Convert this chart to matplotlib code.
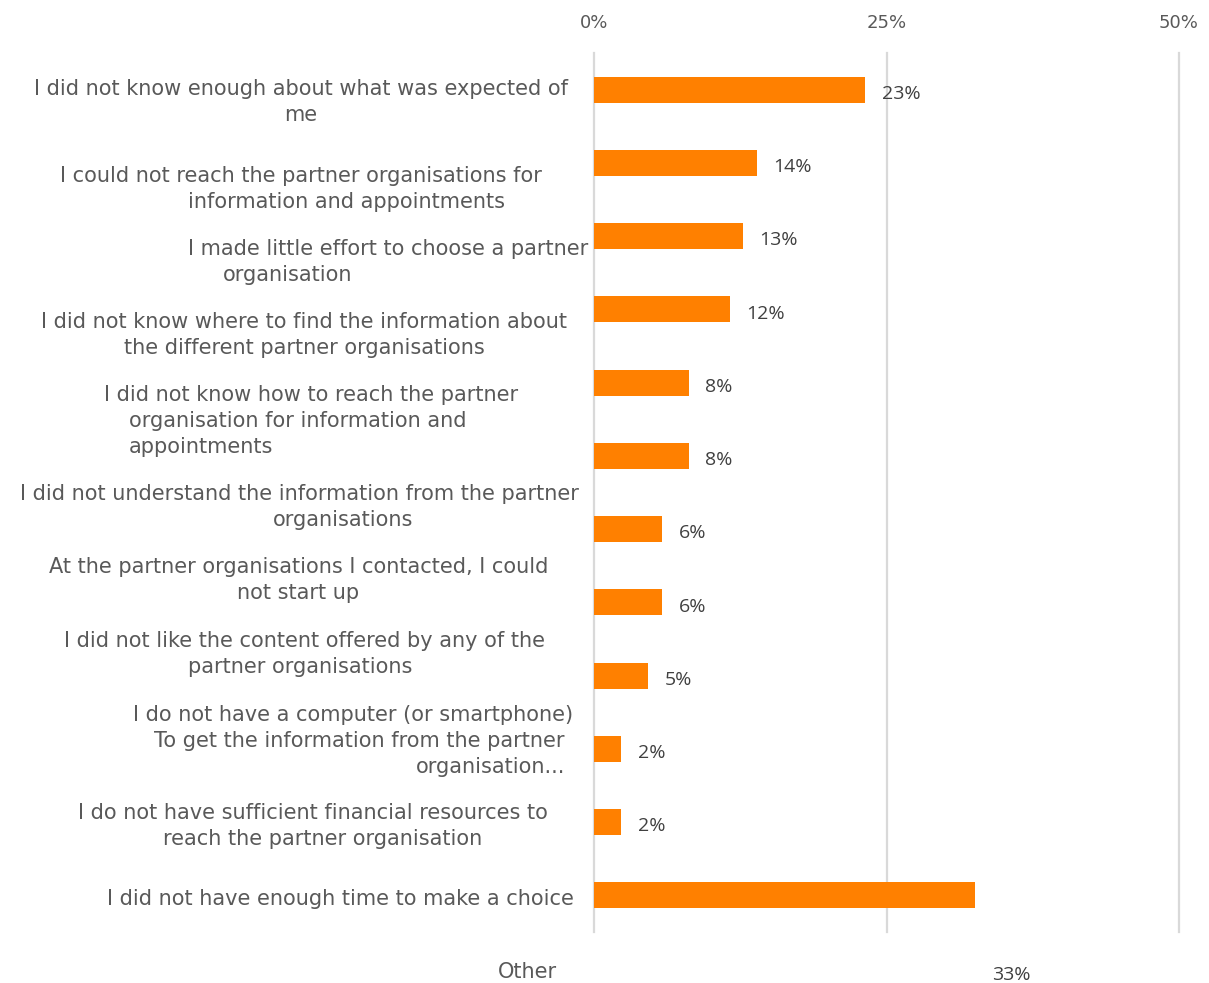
import matplotlib.pyplot as plt
import numpy as np

# survey answers, one bar per reason (top to bottom)
values = [23.2, 13.9, 12.7, 11.6, 8.1, 8.1, 5.8, 5.8, 4.6, 2.3, 2.3, 32.6]
value_labels = ["23%", "14%", "13%", "12%", "8%", "8%", "6%", "6%", "5%", "2%", "2%", "33%"]

# category text, split into lines the way they are laid out on the left
label_lines = [
    ["I did not know enough about what was expected of", "me"],
    ["I could not reach the partner organisations for", "information and appointments"],
    ["I made little effort to choose a partner", "organisation"],
    ["I did not know where to find the information about", "the different partner organisations"],
    ["I did not know how to reach the partner", "organisation for information and", "appointments"],
    ["I did not understand the information from the partner", "organisations"],
    ["At the partner organisations I contacted, I could", "not start up"],
    ["I did not like the content offered by any of the", "partner organisations"],
    ["I do not have a computer (or smartphone)", "To get the information from the partner", "organisation..."],
    ["I do not have sufficient financial resources to", "reach the partner organisation"],
    ["I did not have enough time to make a choice"],
    ["Other"],
]
# (x, y, ha) in pixels for every line of text
label_pos = [
    [(301, 89, "center"), (301, 115, "center")],
    [(301, 176, "center"), (347, 202, "center")],
    [(588, 249, "right"), (288, 275, "center")],
    [(304, 322, "center"), (304, 348, "center")],
    [(311, 395, "center"), (129, 421, "left"), (129, 447, "left")],
    [(299, 494, "center"), (343, 520, "center")],
    [(299, 567, "center"), (298, 593, "center")],
    [(304, 641, "center"), (300, 667, "center")],
    [(573, 715, "right"), (565, 741, "right"), (565, 767, "right")],
    [(313, 813, "center"), (323, 839, "center")],
    [(574, 899, "right")],
    [(527, 972, "center")],
]

W, H = 1209, 983
fig = plt.figure(figsize=(W / 100, H / 100), dpi=100)
ax = fig.add_axes([594 / W, 1 - 932 / H, (1179 - 594) / W, (932 - 53) / H])

ypos = np.arange(len(values))
ax.barh(ypos, values, height=0.355, color="#FF8000", zorder=3)
ax.set_ylim(len(values) - 0.5, -0.5)
ax.set_xlim(0, 50)

ax.set_xticks([0, 25, 50])
ax.set_xticklabels(["0%", "25%", "50%"])
ax.xaxis.tick_top()
ax.tick_params(axis="x", length=0, pad=15, labelsize=13, labelcolor="#595959")
ax.set_yticks([])
ax.grid(axis="x", color="#D9D9D9", linewidth=1.6, zorder=0, clip_on=False)
for s in ax.spines.values():
    s.set_visible(False)

# value labels; the last one drops down to the "Other" row
for i, (v, t) in enumerate(zip(values, value_labels)):
    dy = -3 if i < len(values) - 1 else -57
    ax.annotate(t, (v, i), xytext=(12, dy), textcoords="offset points",
                ha="left", va="center", fontsize=14, family="Open Sans",
                color="#404040")

for lines, pos in zip(label_lines, label_pos):
    for txt, (x, y, ha) in zip(lines, pos):
        fig.text(x / W, 1 - y / H, txt, ha=ha, va="center", fontsize=15,
                 color="#595959")

fig.savefig("out.png", dpi=100)
